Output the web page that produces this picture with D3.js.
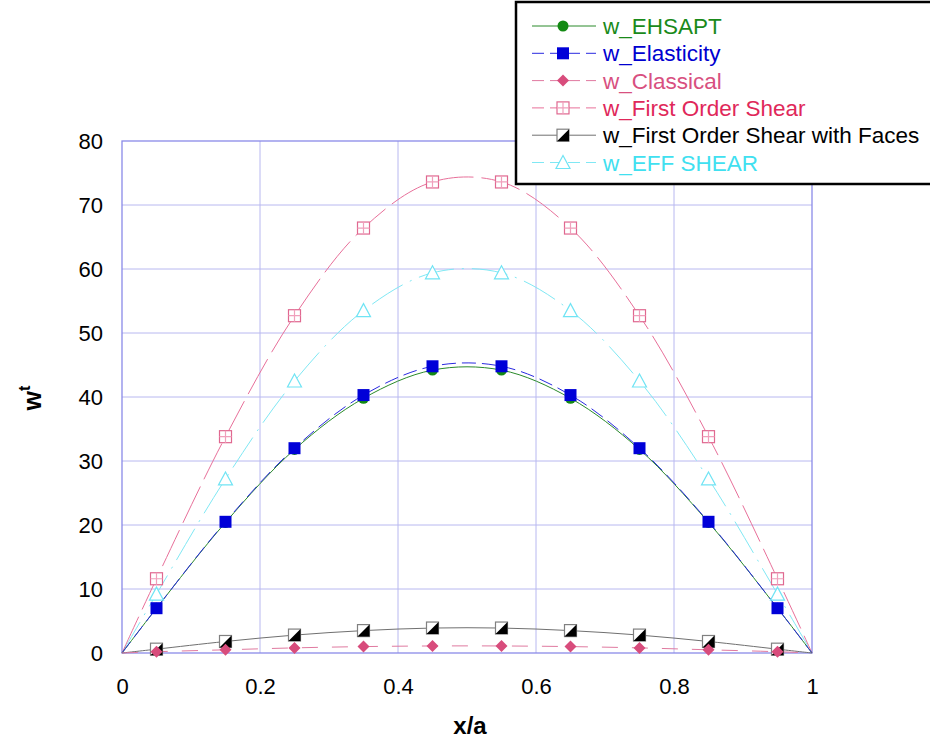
<!DOCTYPE html>
<html lang="en">
<head>
<meta charset="UTF-8">
<title>w^t vs x/a</title>
<style>
  body { margin:0; background:#fff; }
  svg text { font-family: Arial, "Liberation Sans", sans-serif; }
</style>
</head>
<body>
<script src="https://cdn.jsdelivr.net/npm/d3@7/dist/d3.min.js"></script>
<script>
var xs = [0.05, 0.15, 0.25, 0.35, 0.45, 0.55, 0.65, 0.75, 0.85, 0.95];
var ehsapt     = [7.0, 20.4, 31.8, 39.8, 44.2, 44.2, 39.8, 31.8, 20.4, 7.0];
var elasticity = [7.0, 20.5, 32.0, 40.3, 44.8, 44.8, 40.3, 32.0, 20.5, 7.0];
var classical  = [0.2, 0.5, 0.8, 1.0, 1.1, 1.1, 1.0, 0.8, 0.5, 0.2];
var firstOrder = [11.6, 33.8, 52.7, 66.4, 73.6, 73.6, 66.4, 52.7, 33.8, 11.6];
var faces      = [0.6, 1.8, 2.8, 3.5, 3.9, 3.9, 3.5, 2.8, 1.8, 0.6];
var effShear   = [9.2, 27.2, 42.5, 53.5, 59.4, 59.4, 53.5, 42.5, 27.2, 9.2];
var xTicks = [0, 0.2, 0.4, 0.6, 0.8, 1];
var yTicks = [0, 10, 20, 30, 40, 50, 60, 70, 80];

var series = [
  {name:'w_EHSAPT', vals:ehsapt, color:'#2a8a2a', text:'#1a8a1a', mark:'circle', dash:null},
  {name:'w_Elasticity', vals:elasticity, color:'#2a2ae0', text:'#0000d0', mark:'square', dash:'14,6'},
  {name:'w_Classical', vals:classical, color:'#e07aa0', text:'#d85080', mark:'diamond', dash:'16,14'},
  {name:'w_First Order Shear', vals:firstOrder, color:'#e8709a', text:'#e0285a', mark:'boxplus', dash:'40,8'},
  {name:'w_First Order Shear with Faces', vals:faces, color:'#707070', text:'#000', mark:'half', dash:null},
  {name:'w_EFF SHEAR', vals:effShear, color:'#80e8f4', text:'#40e0f0', mark:'triangle', dash:'36,8,2,8'}
];

var width = 930, height = 744;
var pLeft = 122, pRight = 812, pTop = 141, pBottom = 653;

var svg = d3.select('body').append('svg').attr('width', width).attr('height', height);

var x = d3.scaleLinear().domain([0, 1]).range([pLeft, pRight]);
var y = d3.scaleLinear().domain([0, 80]).range([pBottom, pTop]);

// grid
svg.append('g').selectAll('line').data(xTicks.slice(1, -1)).enter().append('line')
   .attr('x1', d => x(d)).attr('x2', d => x(d)).attr('y1', pTop).attr('y2', pBottom)
   .attr('stroke', '#b8b8f0').attr('stroke-width', 1);
svg.append('g').selectAll('line').data(yTicks.slice(1, -1)).enter().append('line')
   .attr('x1', pLeft).attr('x2', pRight).attr('y1', d => y(d)).attr('y2', d => y(d))
   .attr('stroke', '#b8b8f0').attr('stroke-width', 1);
svg.append('rect').attr('x', pLeft).attr('y', pTop).attr('width', pRight - pLeft).attr('height', pBottom - pTop)
   .attr('fill', 'none').attr('stroke', '#8a8ae8').attr('stroke-width', 1.3);

// axes
var xAxis = svg.append('g').attr('transform', 'translate(0,' + pBottom + ')')
   .call(d3.axisBottom(x).tickValues(xTicks).tickSize(0).tickPadding(25).tickFormat(d3.format('')));
var yAxis = svg.append('g').attr('transform', 'translate(' + pLeft + ',0)')
   .call(d3.axisLeft(y).tickValues(yTicks).tickSize(0).tickPadding(19));
[xAxis, yAxis].forEach(function(a) {
  a.select('.domain').remove();
  a.attr('font-size', 22).attr('font-family', 'Arial, "Liberation Sans", sans-serif');
  a.selectAll('text').attr('fill', '#000');
});

svg.append('text').attr('x', 470).attr('y', 734).attr('text-anchor', 'middle')
   .attr('font-size', 24).attr('font-weight', 'bold').text('x/a');
var yt = svg.append('text').attr('transform', 'translate(41,398) rotate(-90)')
   .attr('text-anchor', 'middle').attr('font-size', 25).attr('font-weight', 'bold');
yt.append('tspan').text('w');
yt.append('tspan').attr('font-size', 16).attr('dy', -11).text('t');

// lines
var line = d3.line().x(d => x(d[0])).y(d => y(d[1])).curve(d3.curveCatmullRom);
function drawMarker(g, type, cx, cy) {
  var s = 6;
  if (type === 'circle') {
    g.append('circle').attr('cx', cx).attr('cy', cy).attr('r', 5.5).attr('fill', '#138a13');
  } else if (type === 'square') {
    g.append('rect').attr('x', cx - s).attr('y', cy - s).attr('width', 2 * s).attr('height', 2 * s).attr('fill', '#0000d8');
  } else if (type === 'diamond') {
    g.append('path').attr('d', 'M' + cx + ',' + (cy - 6) + 'L' + (cx + 6) + ',' + cy + 'L' + cx + ',' + (cy + 6) + 'L' + (cx - 6) + ',' + cy + 'Z')
     .attr('fill', '#d84c7c');
  } else if (type === 'boxplus') {
    g.append('rect').attr('x', cx - s).attr('y', cy - s).attr('width', 2 * s).attr('height', 2 * s)
     .attr('fill', '#fff').attr('stroke', '#e06890').attr('stroke-width', 1.2);
    g.append('path').attr('d', 'M' + cx + ',' + (cy - s) + 'V' + (cy + s) + 'M' + (cx - s) + ',' + cy + 'H' + (cx + s))
     .attr('stroke', '#f0a0bc').attr('stroke-width', 1.2);
  } else if (type === 'half') {
    g.append('rect').attr('x', cx - s).attr('y', cy - s).attr('width', 2 * s).attr('height', 2 * s)
     .attr('fill', '#fff').attr('stroke', '#808080').attr('stroke-width', 1.2);
    g.append('path').attr('d', 'M' + (cx + s) + ',' + (cy - s) + 'L' + (cx + s) + ',' + (cy + s) + 'L' + (cx - s) + ',' + (cy + s) + 'Z')
     .attr('fill', '#000');
  } else if (type === 'triangle') {
    g.append('path').attr('d', 'M' + cx + ',' + (cy - 7) + 'L' + (cx + 7) + ',' + (cy + 6) + 'L' + (cx - 7) + ',' + (cy + 6) + 'Z')
     .attr('fill', '#fff').attr('stroke', '#70e4f4').attr('stroke-width', 1.2);
  }
}

var order = [5, 3, 0, 1, 4, 2];
order.forEach(function(i) {
  var s = series[i];
  var pts = [[0, 0]].concat(xs.map((d, k) => [d, s.vals[k]])).concat([[1, 0]]);
  svg.append('path').attr('d', line(pts)).attr('fill', 'none')
     .attr('stroke', s.color).attr('stroke-width', 1)
     .attr('stroke-dasharray', s.dash);
});
order.forEach(function(i) {
  var s = series[i];
  var g = svg.append('g');
  xs.forEach(function(d, k) { drawMarker(g, s.mark, x(d), y(s.vals[k])); });
});

// legend
var lg = svg.append('g');
lg.append('rect').attr('x', 516).attr('y', 2).attr('width', 420).attr('height', 182)
  .attr('fill', '#fff').attr('stroke', '#000').attr('stroke-width', 2.5);
series.forEach(function(s, i) {
  var ly = 26 + i * 27.3;
  lg.append('line').attr('x1', 532).attr('x2', 596).attr('y1', ly).attr('y2', ly)
    .attr('stroke', s.color).attr('stroke-width', 1).attr('stroke-dasharray', s.dash ? '12,6' : null);
  drawMarker(lg, s.mark, 563, ly);
  lg.append('text').attr('x', 603).attr('y', ly + 8).attr('font-size', 22.5).attr('fill', s.text).text(s.name);
});
</script>
</body>
</html>
